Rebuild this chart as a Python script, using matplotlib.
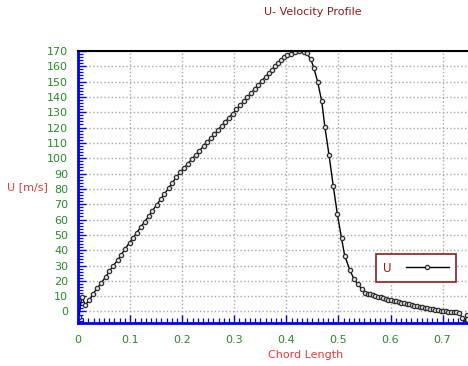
import matplotlib.pyplot as plt
from matplotlib.ticker import MultipleLocator

# chord position and u-velocity along the profile
chord = [0.002, 0.007, 0.014, 0.022, 0.029, 0.037, 0.045, 0.053, 0.060, 0.068,
         0.076, 0.083, 0.091, 0.099, 0.106, 0.113, 0.120, 0.128, 0.136, 0.143,
         0.151, 0.159, 0.166, 0.174, 0.181, 0.189, 0.196, 0.204, 0.211, 0.219,
         0.226, 0.233, 0.241, 0.248, 0.255, 0.262, 0.269, 0.276, 0.283, 0.290,
         0.297, 0.304, 0.311, 0.318, 0.325, 0.332, 0.339, 0.346, 0.353, 0.360,
         0.366, 0.372, 0.378, 0.384, 0.390, 0.396, 0.402, 0.409, 0.417, 0.425,
         0.433, 0.439, 0.447, 0.453, 0.460, 0.468, 0.474, 0.482, 0.490, 0.498,
         0.506, 0.512, 0.522, 0.530, 0.538, 0.545, 0.551, 0.556, 0.561, 0.566,
         0.571, 0.576, 0.581, 0.586, 0.591, 0.596, 0.601, 0.606, 0.611, 0.616,
         0.621, 0.626, 0.631, 0.636, 0.641, 0.646, 0.651, 0.656, 0.661, 0.666,
         0.671, 0.676, 0.681, 0.686, 0.691, 0.696, 0.701, 0.706, 0.711, 0.716,
         0.721, 0.726, 0.731, 0.738, 0.743, 0.746]
u_vel = [-3.5, 9.5, 4.5, 7.2, 11.6, 15.3, 18.8, 22.5, 26.2, 29.9,
         33.5, 37.1, 41.0, 45.0, 48.2, 51.5, 54.9, 58.6, 62.3, 65.8,
         69.5, 73.3, 76.7, 80.5, 84.0, 87.6, 91.0, 93.8, 96.5, 99.5,
         102.2, 104.8, 107.9, 110.5, 113.2, 115.8, 118.5, 121.2, 123.8, 126.5,
         129.1, 131.8, 134.5, 137.1, 139.8, 142.4, 145.1, 147.8, 150.4, 153.1,
         155.4, 157.7, 160.0, 162.2, 164.2, 165.8, 167.0, 168.2, 169.5, 169.9,
         169.5, 168.4, 164.5, 158.6, 150.0, 137.0, 120.4, 102.0, 82.0, 63.3,
         47.7, 36.4, 27.0, 21.0, 17.7, 14.5, 12.3, 11.7, 11.2, 10.7,
         10.2, 9.7, 9.2, 8.7, 8.3, 7.8, 7.4, 7.0, 6.6, 6.2,
         5.8, 5.4, 5.0, 4.6, 4.2, 3.8, 3.5, 3.1, 2.7, 2.4,
         2.0, 1.7, 1.4, 1.1, 0.8, 0.5, 0.3, 0.1, -0.1, -0.3,
         -0.4, -0.5, -0.8, -4.0, -7.5, -2.5]

dark_red = '#8b1c1c'
label_red = '#e83a3a'
tick_green = '#2a8a2a'

fig = plt.figure(figsize=(4.68, 3.66), dpi=100)
ax = fig.add_axes([0.1667, 0.1175, 0.8313, 0.7435])

ax.plot(chord, u_vel, color='black', linewidth=1.0, marker='o', markersize=3.1,
        markerfacecolor='#e0e0e0', markeredgecolor='#303030', markeredgewidth=0.9,
        label='U')

ax.set_xlim(0, 0.747)
ax.set_ylim(-7.5, 170)
ax.xaxis.set_major_locator(MultipleLocator(0.1))
ax.xaxis.set_minor_locator(MultipleLocator(0.01))
ax.yaxis.set_major_locator(MultipleLocator(10))
ax.yaxis.set_minor_locator(MultipleLocator(2))
ax.xaxis.set_major_formatter(plt.FuncFormatter(lambda v, p: '0' if abs(v) < 1e-9 else f'{v:g}'))

ax.grid(True, which='major', color='#a8a8a8', linestyle=':', linewidth=1.0)

for side in ['left', 'bottom']:
    ax.spines[side].set_color('#0000ff')
    ax.spines[side].set_linewidth(2.0)
ax.spines['top'].set_color('black')
ax.spines['top'].set_linewidth(1.5)
ax.spines['right'].set_visible(False)

ax.tick_params(which='both', direction='in', colors='#0000ff', labelcolor=tick_green,
               labelsize=8)
ax.tick_params(which='major', length=6, width=1.0)
ax.tick_params(which='minor', length=3.5, width=0.9)
ax.tick_params(axis='y', pad=7)
ax.tick_params(axis='x', pad=9)

fig.text(0.669, 0.967, 'U- Velocity Profile', color=dark_red, fontsize=8,
         ha='center', va='center')
fig.text(0.652, 0.030, 'Chord Length', color=label_red, fontsize=8,
         ha='center', va='center')
fig.text(0.058, 0.489, 'U [m/s]', color=label_red, fontsize=8,
         ha='center', va='center')

# legend: label first, then the line sample
leg = ax.legend(loc='center', bbox_to_anchor=(416 / 468, 1 - 268 / 366),
                bbox_transform=fig.transFigure, fancybox=False, framealpha=1,
                edgecolor=dark_red, fontsize=8.5, handlelength=3.6,
                borderpad=0.6, handletextpad=1.2, borderaxespad=0,
                markerfirst=False)
leg.get_frame().set_linewidth(1.2)
for t in leg.get_texts():
    t.set_color(dark_red)

fig.savefig('out.png', dpi=100)
